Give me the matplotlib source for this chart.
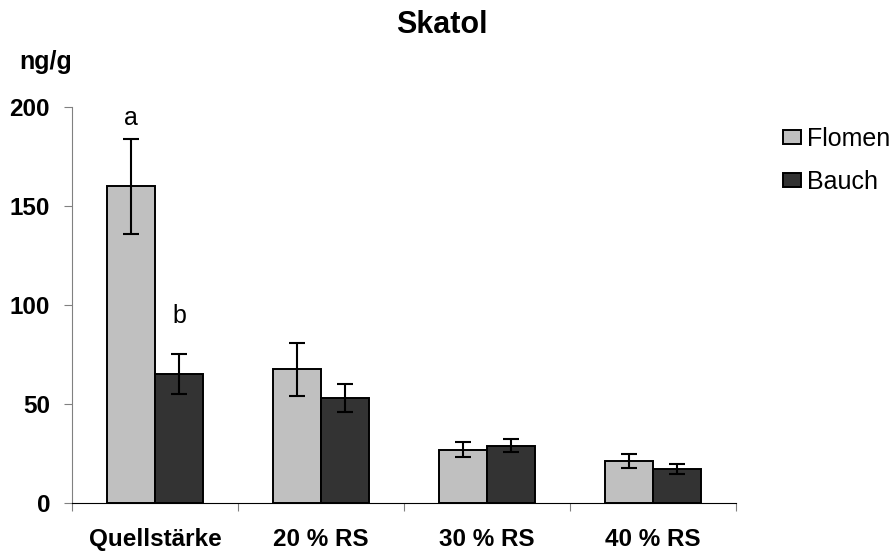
import numpy as np
import matplotlib
matplotlib.use('Agg')
import matplotlib.pyplot as plt

plt.rcParams['font.family'] = ['Liberation Sans', 'DejaVu Sans']

# Skatol in ng/g
groups = ['Quellstärke', '20 % RS', '30 % RS', '40 % RS']
flomen = [160, 67.5, 27, 21]
flomen_err = [24, 13.5, 4, 3.5]
bauch = [65, 53, 29, 17]
bauch_err = [10, 7, 3.5, 2.5]

fig = plt.figure(figsize=(8.94, 5.54), dpi=100)
ax = fig.add_axes([0.0809, 0.0921, 0.7424, 0.7148])

x = np.arange(len(groups)) + 0.5
w = 0.29
err_kw = dict(ecolor='black', elinewidth=1.5, capsize=5.5, capthick=1.5)
ax.bar(x - w / 2, flomen, w, yerr=flomen_err, color='#c0c0c0', edgecolor='black',
       linewidth=1.4, label='Flomen', error_kw=err_kw)
ax.bar(x + w / 2, bauch, w, yerr=bauch_err, color='#333333', edgecolor='black',
       linewidth=1.4, label='Bauch', error_kw=err_kw)

ax.set_xlim(0, len(groups))
ax.set_ylim(0, 200)
ax.set_yticks([0, 50, 100, 150, 200])
ax.set_xticks(np.arange(len(groups) + 1))
ax.set_xticklabels([])
ax.set_xticks(x, minor=True)
ax.set_xticklabels(groups, minor=True, fontsize=17.5, fontweight='bold')
ax.tick_params(axis='x', which='minor', length=0, pad=18)
ax.tick_params(axis='x', which='major', length=6, color='#808080', direction='out')
ax.tick_params(axis='y', length=6, color='#808080', pad=10, labelsize=17.5)
for lab in ax.get_yticklabels():
    lab.set_fontweight('bold')

for s in ['top', 'right']:
    ax.spines[s].set_visible(False)
ax.spines['left'].set_color('#808080')
ax.spines['bottom'].set_color('black')

# significance letters
ax.text(x[0] - w / 2, 191, 'a', ha='center', va='baseline', fontsize=18)
ax.text(x[0] + w / 2, 91, 'b', ha='center', va='baseline', fontsize=18)

fig.text(0.494, 1 - 33 / 554, 'Skatol', ha='center', va='baseline',
         fontsize=22, fontweight='bold')
fig.text(46 / 894, 1 - 69 / 554, 'ng/g', ha='center', va='baseline',
         fontsize=18, fontweight='bold')

fig.legend(loc='upper left', bbox_to_anchor=(783 / 894, 1 - 127 / 554),
           frameon=False, fontsize=18, handlelength=0.72, handleheight=0.45,
           handletextpad=0.25, borderpad=0, borderaxespad=0, labelspacing=0.75)

fig.savefig('out.png', dpi=100)
